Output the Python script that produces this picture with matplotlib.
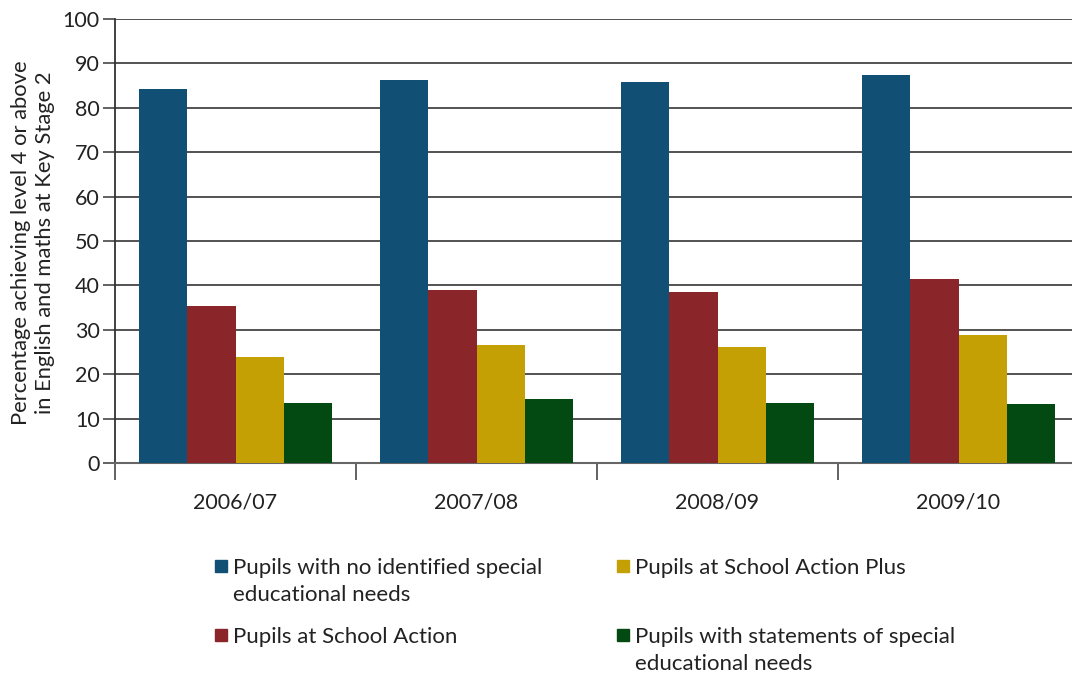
import numpy as np
import matplotlib
matplotlib.use('Agg')
from matplotlib import pyplot as plt
from matplotlib.patches import Rectangle

plt.rcParams['font.family'] = ['Lato', 'DejaVu Sans']

years = ['2006/07', '2007/08', '2008/09', '2009/10']
no_sen = [84.3, 86.3, 85.9, 87.4]
school_action = [35.4, 39.0, 38.5, 41.5]
action_plus = [23.9, 26.6, 26.1, 28.8]
statements = [13.5, 14.4, 13.5, 13.3]

labels = ['Pupils with no identified special\neducational needs',
          'Pupils at School Action',
          'Pupils at School Action Plus',
          'Pupils with statements of special\neducational needs']
colors = ['#114f74', '#8a262a', '#c4a005', '#024a12']

#%%
W, H = 1072, 673
fig = plt.figure(figsize=(W / 100, H / 100), dpi=100)
ax = fig.add_axes([115 / W, 210 / H, 964 / W, 444 / H])

x = np.arange(len(years))
bw = 0.2
series = [no_sen, school_action, action_plus, statements]
for i, vals in enumerate(series):
    ax.bar(x - 0.3 + i * bw, vals, width=bw, color=colors[i], zorder=3)

ax.set_xlim(-0.5, len(years) - 0.5)
ax.set_ylim(0, 100)
ax.set_yticks(range(0, 101, 10))
ax.yaxis.grid(True, color='#444444', lw=1.3, zorder=0)
ax.set_axisbelow(True)

ax.set_xticks(x)
ax.set_xticklabels(years, fontsize=15.5, color='#222222')
ax.set_xticks(np.arange(len(years) + 1) - 0.5, minor=True)
ax.tick_params(axis='x', which='major', length=0, pad=21)
ax.tick_params(axis='x', which='minor', length=12, width=1.3, color='#555555')
ax.tick_params(axis='y', length=9, width=1.3, color='#555555',
               labelsize=15.5, labelcolor='#222222', pad=2)

for s in ['top', 'right']:
    ax.spines[s].set_visible(False)
ax.spines['left'].set_color('#333333')
ax.spines['left'].set_linewidth(1.3)
ax.spines['bottom'].set_color('#666666')
ax.spines['bottom'].set_linewidth(1.5)

fig.text(33 / W, 1 - 243 / H,
         'Percentage achieving level 4 or above\nin English and maths at Key Stage 2',
         rotation=90, ha='center', va='center', fontsize=15.8,
         color='#222222', linespacing=1.2)

# legend drawn by hand to keep the two-line layout
spots = [(215, 566), (215, 635), (617, 566), (617, 635)]
for (px, py), lab, c in zip(spots, labels, colors):
    fig.add_artist(Rectangle((px / W, 1 - (py + 6) / H), 12 / W, 12 / H,
                             color=c, transform=fig.transFigure))
    fig.text((px + 18) / W, 1 - (py - 8) / H, lab, ha='left', va='top',
             fontsize=16, color='#222222', linespacing=1.45)

plt.savefig('out.png', dpi=100)
